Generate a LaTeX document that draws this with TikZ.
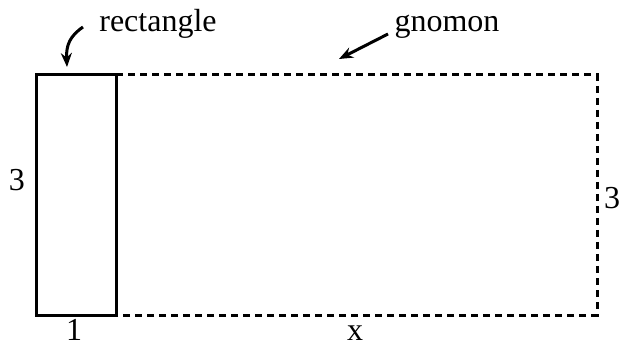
\documentclass[tikz,border=0pt]{standalone}
\usepackage{fontspec}
\setmainfont{Liberation Serif}
\usetikzlibrary{arrows.meta}
\begin{document}
\begin{tikzpicture}[x=1pt,y=-1pt,
  solidbox/.style={draw=black,line width=3pt},
  gnomonline/.style={draw=black,line width=3pt,dash pattern=on 7pt off 5pt},
  lbl/.style={font=\fontsize{32}{36}\selectfont,inner sep=0pt},
  pointer/.style={line width=3pt,-{Stealth[length=14pt,width=11pt]}}]
\useasboundingbox (0,0) rectangle (626,347);
\coordinate (A) at (36,75);
\coordinate (B) at (116,75);
\coordinate (C) at (116,315);
\coordinate (D) at (36,315);
\coordinate (E) at (597,75);
\coordinate (F) at (597,315);
\draw[gnomonline] (B) -- (E) -- (F) -- (C);
\draw[solidbox] (A) rectangle (C);
\node[lbl] (l3) at (17,180) {3};
\node[lbl] (r3) at (612,198) {3};
\node[lbl,anchor=base] (one) at (74,340) {1};
\node[lbl,anchor=base] (x) at (355,340) {x};
\node[lbl,anchor=base] (rect) at (158,32) {rectangle};
\node[lbl,anchor=base] (gno) at (447,32) {gnomon};
\coordinate (rs) at (83,27);
\coordinate (rt) at (67,67);
\coordinate (gs) at (388,34);
\coordinate (gt) at (339,59);
\draw[pointer] (rs) .. controls (70,36) and (66,45) .. (rt);
\draw[pointer] (gs) -- (gt);
\end{tikzpicture}
\end{document}
